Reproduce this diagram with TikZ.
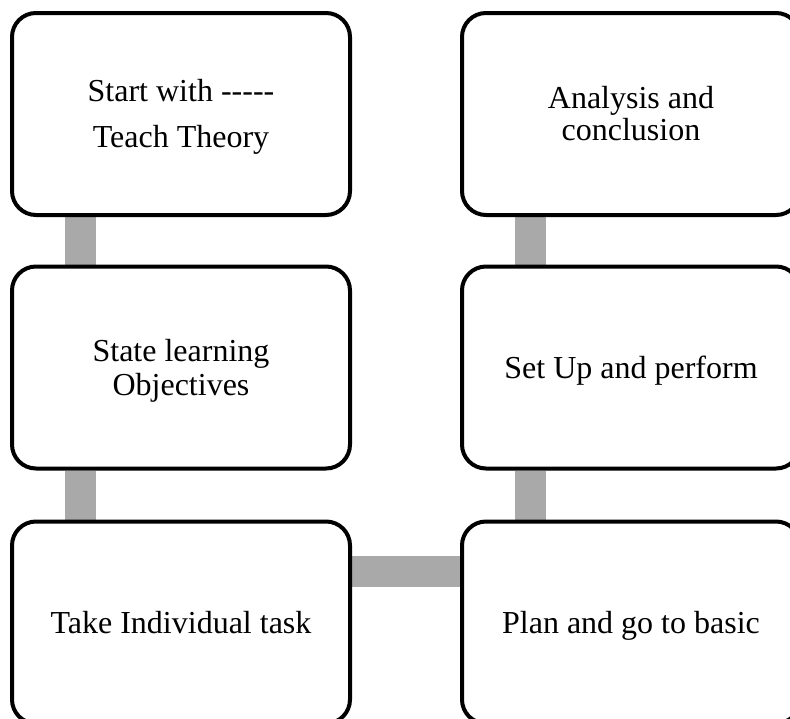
\documentclass[tikz,border=0pt]{standalone}
\usepackage{fontspec}
\setmainfont{Liberation Serif}[Ligatures=TeXOff]
\usetikzlibrary{backgrounds}
\definecolor{conngray}{HTML}{A9A9A9}
\newcommand{\tstrut}{\rule{0pt}{29pt}}
\newcommand{\bstrut}{\rule[-8pt]{0pt}{8pt}}
\tikzset{
  stepbox/.style={draw=black, line width=4pt, rounded corners=24pt, fill=white,
    minimum width=338pt, minimum height=202pt, inner sep=0pt, align=center,
    font=\fontsize{32}{33}\selectfont},
  conn/.style={draw=conngray, line width=31pt}
}
\begin{document}
\begin{tikzpicture}[x=1pt,y=1pt]
\useasboundingbox (0,0) rectangle (790,-718);
\clip (0,0) rectangle (790,-718);
\node[stepbox] (tl) at (181,-114) {\tstrut Start with -----\\[13pt]Teach Theory\bstrut};
\node[stepbox] (ml) at (181,-367.5) {\tstrut State learning\\[1pt]Objectives\bstrut};
\node[stepbox] (bl) at (181,-622.5) {\tstrut Take Individual task\bstrut};
\node[stepbox] (tr) at (631,-114) {\tstrut Analysis and\\[-1pt]conclusion\bstrut};
\node[stepbox] (mr) at (631,-367.5) {\tstrut Set Up and perform\bstrut};
\node[stepbox] (br) at (631,-622.5) {\tstrut Plan and go to basic\bstrut};
\begin{scope}[on background layer]
\draw[conn] ([xshift=-100.5pt]tl.south) -- ([xshift=-100.5pt]ml.north);
\draw[conn] ([xshift=-100.5pt]ml.south) -- ([xshift=-100.5pt]bl.north);
\draw[conn] ([yshift=51pt]bl.east) -- ([yshift=51pt]br.west);
\draw[conn] ([xshift=-100.5pt]br.north) -- ([xshift=-100.5pt]mr.south);
\draw[conn] ([xshift=-100.5pt]mr.north) -- ([xshift=-100.5pt]tr.south);
\end{scope}
\end{tikzpicture}
\end{document}
